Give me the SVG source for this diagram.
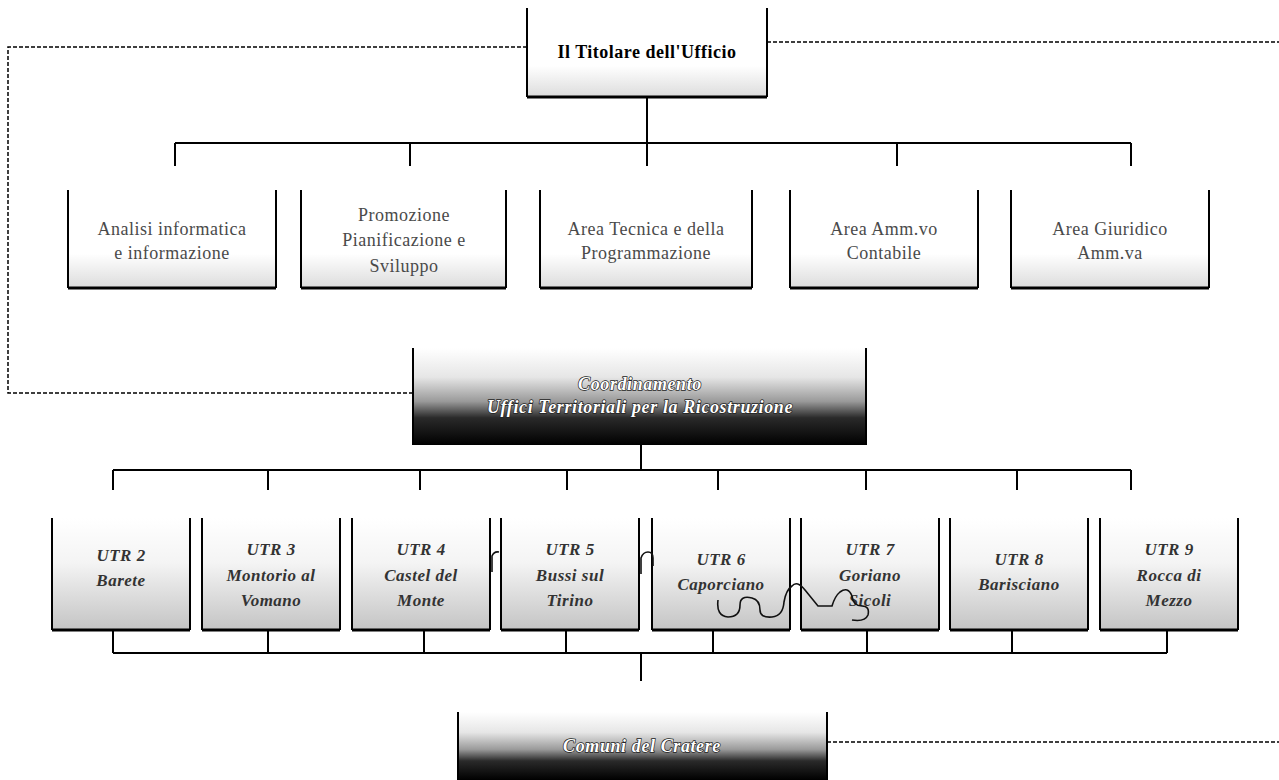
<svg xmlns="http://www.w3.org/2000/svg" width="1279" height="780" viewBox="0 0 1279 780">
<defs>
<linearGradient id="gLight" x1="0" y1="0" x2="0" y2="1">
<stop offset="0" stop-color="#fff"/><stop offset="0.65" stop-color="#fff"/><stop offset="1" stop-color="#dcdcdc"/>
</linearGradient>
<linearGradient id="gUtr" x1="0" y1="0" x2="0" y2="1">
<stop offset="0" stop-color="#fff"/><stop offset="0.4" stop-color="#f4f4f4"/><stop offset="1" stop-color="#c4c4c4"/>
</linearGradient>
<linearGradient id="gDark" x1="0" y1="0" x2="0" y2="1">
<stop offset="0" stop-color="#fff"/><stop offset="0.3" stop-color="#e6e6e6"/><stop offset="0.55" stop-color="#9a9a9a"/><stop offset="0.72" stop-color="#2a2a2a"/><stop offset="1" stop-color="#000"/>
</linearGradient>
</defs>
<style>
.frame{fill:none;stroke:#000;stroke-width:2}
.base{stroke:#000;stroke-width:3}
.line{fill:none;stroke:#000;stroke-width:2}
.dash{fill:none;stroke:#000;stroke-width:1.5;stroke-dasharray:4 2}
.t-top{font-family:"Liberation Serif",serif;font-weight:bold;font-size:18px;letter-spacing:0.5px;fill:#000;text-anchor:middle}
.t-mid{font-family:"Liberation Serif",serif;font-size:18px;fill:#4a4a4a;letter-spacing:0.5px;text-anchor:middle}
.t-utr{font-family:"Liberation Serif",serif;font-weight:bold;font-style:italic;font-size:17px;letter-spacing:0.5px;fill:#333;text-anchor:middle}
.t-dark{font-family:"Liberation Serif",serif;font-weight:bold;font-style:italic;font-size:18px;letter-spacing:0.6px;fill:#fff;stroke:#222;stroke-width:1.4px;paint-order:stroke;text-anchor:middle}
.art{fill:none;stroke:#111;stroke-width:1.6}
</style>

<g id="connectors">
<path class="dash" d="M527,47 H8 V393 H413"/>
<path class="dash" d="M767,42 H1279"/>
<path class="dash" d="M827,742 H1279"/>
<path class="line" d="M647,97 V143 M175,143 H1131 M175,143 V166 M410,143 V166 M647,143 V166 M897,143 V166 M1131,143 V166"/>
<path class="line" d="M641,445 V470 M113,470 H1131 M113,470 V490 M268,470 V490 M420,470 V490 M567,470 V490 M718,470 V490 M866,470 V490 M1017,470 V490 M1131,470 V490"/>
<path class="line" d="M113,630 V653 M268,630 V653 M424,630 V653 M566,630 V653 M713,630 V653 M867,630 V653 M1012,630 V653 M1167,630 V653 M113,653 H1167 M641,653 V681"/>
</g>

<g id="titolare">
<rect x="527" y="8" width="240" height="89" fill="url(#gLight)"/>
<path class="frame" d="M527,8 V97 M767,8 V97"/><path class="base" d="M527,97 H767"/>
<text class="t-top" x="647" y="58">Il Titolare dell'Ufficio</text>
</g>

<g id="analisi">
<rect x="68" y="190" width="208" height="98" fill="url(#gLight)"/>
<path class="frame" d="M68,190 V288 M276,190 V288"/><path class="base" d="M68,288 H276"/>
<text class="t-mid" x="172" y="235">Analisi  informatica</text>
<text class="t-mid" x="172" y="259">e informazione</text>
</g>
<g id="promozione">
<rect x="301" y="190" width="205" height="98" fill="url(#gLight)"/>
<path class="frame" d="M301,190 V288 M506,190 V288"/><path class="base" d="M301,288 H506"/>
<text class="t-mid" x="404" y="221">Promozione</text>
<text class="t-mid" x="404" y="246">Pianificazione e</text>
<text class="t-mid" x="404" y="272">Sviluppo</text>
</g>
<g id="areatecnica">
<rect x="540" y="190" width="212" height="98" fill="url(#gLight)"/>
<path class="frame" d="M540,190 V288 M752,190 V288"/><path class="base" d="M540,288 H752"/>
<text class="t-mid" x="646" y="235">Area Tecnica e della</text>
<text class="t-mid" x="646" y="259">Programmazione</text>
</g>
<g id="ammvo">
<rect x="790" y="190" width="188" height="98" fill="url(#gLight)"/>
<path class="frame" d="M790,190 V288 M978,190 V288"/><path class="base" d="M790,288 H978"/>
<text class="t-mid" x="884" y="235">Area Amm.vo</text>
<text class="t-mid" x="884" y="259">Contabile</text>
</g>
<g id="giuridico">
<rect x="1011" y="190" width="198" height="98" fill="url(#gLight)"/>
<path class="frame" d="M1011,190 V288 M1209,190 V288"/><path class="base" d="M1011,288 H1209"/>
<text class="t-mid" x="1110" y="235">Area Giuridico</text>
<text class="t-mid" x="1110" y="259">Amm.va</text>
</g>

<g id="coordinamento">
<rect x="413" y="348" width="453" height="97" fill="url(#gDark)"/>
<path class="frame" d="M413,348 V445 M866,348 V445"/>
<text class="t-dark" x="640" y="390">Coordinamento</text>
<text class="t-dark" x="640" y="413">Uffici Territoriali per la Ricostruzione</text>
</g>

<g id="utr2">
<rect x="52" y="518" width="138" height="112" fill="url(#gUtr)"/>
<path class="frame" d="M52,518 V630 M190,518 V630"/><path class="base" d="M52,630 H190"/>
<text class="t-utr" x="121" y="561">UTR 2</text><text class="t-utr" x="121" y="586">Barete</text>
</g>
<g id="utr3">
<rect x="202" y="518" width="138" height="112" fill="url(#gUtr)"/>
<path class="frame" d="M202,518 V630 M340,518 V630"/><path class="base" d="M202,630 H340"/>
<text class="t-utr" x="271" y="555">UTR 3</text><text class="t-utr" x="271" y="581">Montorio al</text><text class="t-utr" x="271" y="606">Vomano</text>
</g>
<g id="utr4">
<rect x="352" y="518" width="138" height="112" fill="url(#gUtr)"/>
<path class="frame" d="M352,518 V630 M490,518 V630"/><path class="base" d="M352,630 H490"/>
<text class="t-utr" x="421" y="555">UTR 4</text><text class="t-utr" x="421" y="581">Castel del</text><text class="t-utr" x="421" y="606">Monte</text>
</g>
<g id="utr5">
<rect x="501" y="518" width="138" height="112" fill="url(#gUtr)"/>
<path class="frame" d="M501,518 V630 M639,518 V630"/><path class="base" d="M501,630 H639"/>
<text class="t-utr" x="570" y="555">UTR 5</text><text class="t-utr" x="570" y="581">Bussi sul</text><text class="t-utr" x="570" y="606">Tirino</text>
</g>
<g id="utr6">
<rect x="652" y="518" width="138" height="112" fill="url(#gUtr)"/>
<path class="frame" d="M652,518 V630 M790,518 V630"/><path class="base" d="M652,630 H790"/>
<text class="t-utr" x="721" y="565">UTR 6</text><text class="t-utr" x="721" y="590">Caporciano</text>
</g>
<g id="utr7">
<rect x="801" y="518" width="138" height="112" fill="url(#gUtr)"/>
<path class="frame" d="M801,518 V630 M939,518 V630"/><path class="base" d="M801,630 H939"/>
<text class="t-utr" x="870" y="555">UTR 7</text><text class="t-utr" x="870" y="581">Goriano</text><text class="t-utr" x="870" y="606">Sicoli</text>
</g>
<g id="utr8">
<rect x="950" y="518" width="138" height="112" fill="url(#gUtr)"/>
<path class="frame" d="M950,518 V630 M1088,518 V630"/><path class="base" d="M950,630 H1088"/>
<text class="t-utr" x="1019" y="565">UTR 8</text><text class="t-utr" x="1019" y="590">Barisciano</text>
</g>
<g id="utr9">
<rect x="1100" y="518" width="138" height="112" fill="url(#gUtr)"/>
<path class="frame" d="M1100,518 V630 M1238,518 V630"/><path class="base" d="M1100,630 H1238"/>
<text class="t-utr" x="1169" y="555">UTR 9</text><text class="t-utr" x="1169" y="581">Rocca di</text><text class="t-utr" x="1169" y="606">Mezzo</text>
</g>

<g id="comuni">
<rect x="458" y="712" width="369" height="68" fill="url(#gDark)"/>
<path class="frame" d="M458,712 V780 M827,712 V780"/>
<text class="t-dark" x="642" y="752">Comuni del Cratere</text>
</g>

<g id="scan-marks">
<path class="art" d="M492,572 V556 Q494,551 499,552"/>
<path class="art" d="M641,574 V558 Q643,552 648,552 Q653,552 653,558 V566"/>
<path class="art" d="M718,600 Q716,616 728,617 Q740,617 740,605 Q740,595 752,598 Q760,600 760,610 Q760,618 772,617 Q783,616 784,602 Q786,590 792,586 Q797,580 805,590 L818,606 L832,606 Q835,596 840,592 Q848,586 852,596 Q853,606 862,606 Q870,606 868,615 Q865,622 852,620"/>
</g>
</svg>
